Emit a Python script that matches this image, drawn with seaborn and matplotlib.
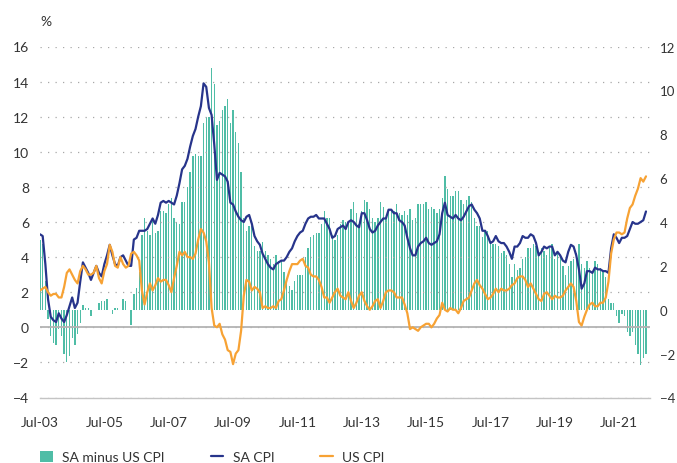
import pandas as pd
import seaborn as sns
import matplotlib.pyplot as plt
from matplotlib.patches import Patch
from matplotlib.lines import Line2D

# Monthly y/y CPI, Jul-03 .. May-22 (one row per calendar year)
sa_cpi = [
    5.3, 5.2, 3.6, 1.6, 0.6, 0.4,
    0.3, 0.8, 0.5, 0.3, 0.7, 1.2, 1.7, 1.1, 1.4, 2.6, 3.7, 3.4,
    3.1, 2.7, 3.1, 3.5, 3.1, 2.9, 3.6, 4.1, 4.7, 4.1, 3.6, 3.5,
    4.0, 4.1, 3.8, 3.5, 3.5, 5.0, 5.1, 5.5, 5.5, 5.5, 5.6, 5.9,
    6.2, 5.9, 6.4, 7.1, 7.2, 7.1, 7.2, 7.1, 7.0, 7.5, 8.2, 9.0,
    9.2, 9.6, 10.3, 10.9, 11.3, 12.0, 12.6, 13.9, 13.7, 12.5, 12.1, 10.4,
    8.4, 8.8, 8.7, 8.6, 8.3, 7.1, 7.0, 6.6, 6.3, 6.1, 6.0, 6.3,
    6.4, 5.9, 5.2, 4.9, 4.7, 4.2, 3.9, 3.6, 3.4, 3.3, 3.6, 3.7,
    3.8, 3.8, 4.0, 4.3, 4.5, 4.9, 5.2, 5.4, 5.5, 5.9, 6.2, 6.3,
    6.3, 6.4, 6.2, 6.2, 6.2, 5.9, 5.6, 5.1, 5.2, 5.6, 5.7, 5.8,
    5.6, 6.0, 6.1, 6.0, 5.8, 5.7, 6.5, 6.5, 6.1, 5.6, 5.4, 5.5,
    5.8, 6.0, 6.2, 6.2, 6.7, 6.7, 6.5, 6.5, 6.1, 6.0, 5.8, 5.1,
    4.5, 4.1, 4.1, 4.6, 4.8, 4.9, 5.1, 4.8, 4.7, 4.8, 4.9, 5.3,
    6.5, 7.1, 6.4, 6.3, 6.2, 6.4, 6.2, 6.1, 6.3, 6.6, 6.9, 7.0,
    6.7, 6.5, 6.2, 5.5, 5.5, 5.2, 4.8, 4.9, 5.2, 4.9, 4.8, 4.8,
    4.6, 4.3, 3.9, 4.6, 4.6, 4.8, 5.2, 5.1, 5.1, 5.3, 5.2, 4.8,
    4.1, 4.3, 4.6, 4.5, 4.6, 4.6, 4.1, 4.3, 4.1, 3.8, 3.7, 4.3,
    4.7, 4.6, 4.1, 3.3, 2.2, 2.5, 3.2, 3.2, 3.1, 3.4, 3.3, 3.3,
    3.2, 3.2, 3.1, 4.5, 5.3, 5.1, 4.8, 5.1, 5.1, 5.2, 5.6, 6.0,
    5.9, 5.9, 6.0, 6.1, 6.6,
]
us_cpi = [
    2.1, 2.2, 2.3, 2.0, 1.8, 1.9,
    1.9, 1.7, 1.7, 2.3, 3.1, 3.3, 3.0, 2.7, 2.5, 3.2, 3.5, 3.3,
    3.0, 3.0, 3.1, 3.5, 2.8, 2.5, 3.2, 3.6, 4.7, 4.3, 3.5, 3.4,
    4.0, 3.6, 3.4, 3.5, 4.2, 4.3, 4.1, 3.8, 2.1, 1.3, 2.0, 2.5,
    2.1, 2.4, 2.8, 2.6, 2.7, 2.7, 2.4, 2.0, 2.8, 3.5, 4.3, 4.1,
    4.3, 4.0, 4.0, 3.9, 4.2, 5.0, 5.6, 5.4, 4.9, 3.7, 1.1, 0.1,
    0.0, 0.2, -0.4, -0.7, -1.3, -1.4, -2.1, -1.5, -1.3, -0.2, 1.8, 2.7,
    2.6, 2.1, 2.3, 2.2, 2.0, 1.1, 1.2, 1.1, 1.1, 1.2, 1.1, 1.5,
    1.6, 2.1, 2.7, 3.2, 3.6, 3.6, 3.6, 3.8, 3.9, 3.5, 3.4, 3.0,
    2.9, 2.9, 2.7, 2.3, 1.7, 1.7, 1.4, 1.7, 2.0, 2.2, 1.8, 1.7,
    1.6, 2.0, 1.5, 1.1, 1.4, 1.8, 2.0, 1.5, 1.2, 1.0, 1.2, 1.5,
    1.6, 1.1, 1.5, 2.0, 2.1, 2.1, 2.0, 1.7, 1.7, 1.7, 1.3, 0.8,
    -0.1, 0.0, -0.1, -0.2, 0.0, 0.1, 0.2, 0.2, 0.0, 0.2, 0.5, 0.7,
    1.4, 1.0, 0.9, 1.1, 1.0, 1.0, 0.8, 1.1, 1.5, 1.6, 1.7, 2.1,
    2.5, 2.7, 2.4, 2.2, 1.9, 1.6, 1.7, 1.9, 2.2, 2.0, 2.2, 2.1,
    2.1, 2.2, 2.4, 2.5, 2.8, 2.9, 2.9, 2.7, 2.3, 2.5, 2.2, 1.9,
    1.6, 1.5, 1.9, 2.0, 1.8, 1.6, 1.8, 1.7, 1.7, 1.8, 2.1, 2.3,
    2.5, 2.3, 1.5, 0.3, 0.1, 0.6, 1.0, 1.3, 1.4, 1.2, 1.2, 1.4,
    1.4, 1.7, 2.6, 4.2, 5.0, 5.4, 5.4, 5.3, 5.4, 6.2, 6.8, 7.0,
    7.5, 7.9, 8.5, 8.3, 8.6,
]
tick_labels = ["Jul-03", "Jul-05", "Jul-07", "Jul-09", "Jul-11",
               "Jul-13", "Jul-15", "Jul-17", "Jul-19", "Jul-21"]
legend_labels = ["SA minus US CPI", "SA CPI", "US CPI"]

df = pd.DataFrame({"sa": sa_cpi, "us": us_cpi})
df["gap"] = df["sa"] - df["us"]
df["pos"] = range(len(df))

teal = "#4fbda6"
navy = "#27348b"
orange = "#f7a234"
text_col = "#333333"

sns.set_style("white")
plt.rcParams["font.family"] = ["Lato", "DejaVu Sans"]
plt.rcParams["font.size"] = 10
plt.rcParams["text.color"] = text_col

fig = plt.figure(figsize=(6.77, 4.64), dpi=100)
ax = fig.add_axes([40 / 677, 65.5 / 464, 610 / 677, 351 / 464])
ax2 = ax.twinx()

# bars on the right-hand scale
sns.barplot(data=df, x="pos", y="gap", ax=ax2, color=teal, width=0.5,
            saturation=1, native_scale=True, linewidth=0, errorbar=None)

# lines on the left-hand scale, drawn above the bars
ax.set_zorder(ax2.get_zorder() + 1)
ax.patch.set_visible(False)
sns.lineplot(data=df, x="pos", y="sa", ax=ax, color=navy, linewidth=1.6)
sns.lineplot(data=df, x="pos", y="us", ax=ax, color=orange, linewidth=1.6)

ax.set_ylim(-4, 16)
ax.set_yticks(range(-4, 17, 2))
ax2.set_ylim(-4, 12)
ax2.set_yticks(range(-4, 13, 2))
ax.set_xlim(0, 227.5)
ax.set_xticks(range(0, 217, 24))
ax.set_xticklabels(tick_labels)

ax.yaxis.grid(True, linestyle=(0, (1, 5)), color="#a8a8a8", linewidth=0.9)
ax.xaxis.grid(False)
ax2.grid(False)
ax.axhline(0, color="#b3b3b3", linewidth=1.3, zorder=1)

for s in ["top", "left", "right"]:
    ax.spines[s].set_visible(False)
for s in ax2.spines.values():
    s.set_visible(False)
ax.spines["bottom"].set_color("#c4c4c4")
ax.spines["bottom"].set_linewidth(1.0)

ax.tick_params(axis="x", length=6, width=1, color="#c4c4c4", pad=7,
               labelsize=10, labelcolor=text_col)
ax.tick_params(axis="y", length=0, pad=8, labelsize=10, labelcolor=text_col)
ax2.tick_params(axis="y", length=0, pad=7, labelsize=9.5, labelcolor=text_col)
ax.set_xlabel("")
ax.set_ylabel("")
ax2.set_ylabel("")

fig.text(40 / 677, 1 - 22 / 464, "%", ha="left", va="center", fontsize=10)

handles = [Patch(facecolor=teal, edgecolor="none"),
           Line2D([], [], color=navy, linewidth=1.6),
           Line2D([], [], color=orange, linewidth=1.6)]
fig.legend(handles, legend_labels, loc="center left",
           bbox_to_anchor=(40 / 677, 1 - 458 / 464), ncol=3, frameon=False,
           borderpad=0, borderaxespad=0, handlelength=0.9, handleheight=0.9,
           handletextpad=0.7, columnspacing=3.3, fontsize=10)

fig.savefig("out.png", dpi=100)
